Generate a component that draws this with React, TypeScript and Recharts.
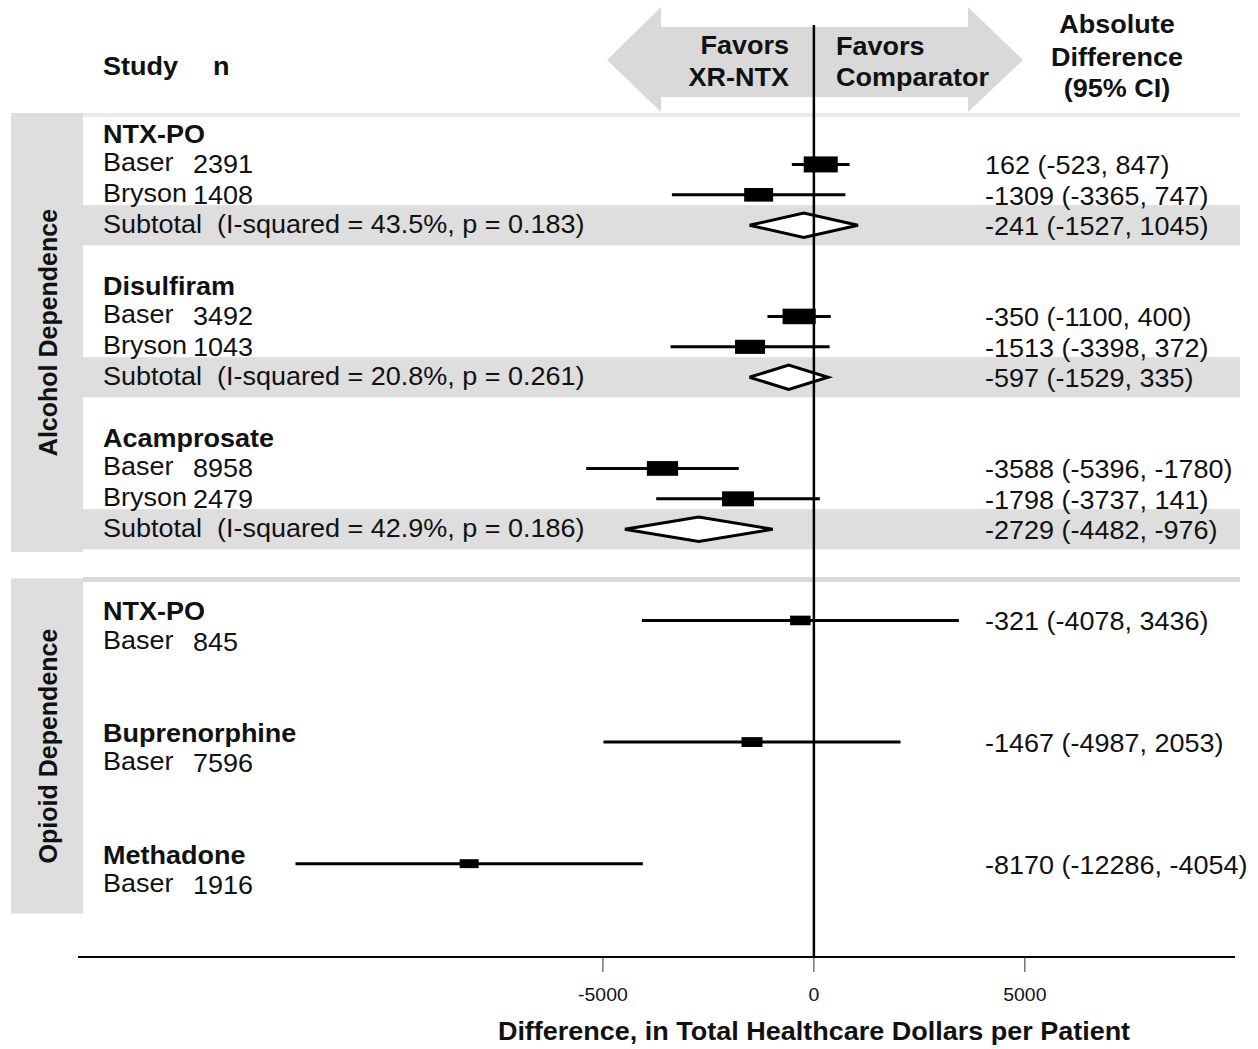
import React from 'react';
import {
  ComposedChart,
  XAxis,
  YAxis,
  Scatter,
  ReferenceArea,
  ReferenceLine,
} from 'recharts';

const FONT = '"Liberation Sans", Arial, Helvetica, sans-serif';
const SX = 1.08; // the source text is slightly wide

// section labels (left strip) and the rows they cover
const groupNames = ['Alcohol Dependence', 'Opioid Dependence'];
const groupStart = [-0.69, 14.62];
const groupEnd = [13.75, 25.64];

// comparator headings
const comparators = ['NTX-PO', 'Disulfiram', 'Acamprosate', 'NTX-PO', 'Buprenorphine', 'Methadone'];
const comparatorRows = [0, 5, 10, 15.7, 19.7, 23.7];

// individual studies
const studyNames = ['Baser', 'Bryson', 'Baser', 'Bryson', 'Baser', 'Bryson', 'Baser', 'Baser', 'Baser'];
const studyN = [2391, 1408, 3492, 1043, 8958, 2479, 845, 7596, 1916];
const studyRows = [1, 2, 6, 7, 11, 12, 16, 20, 24];
const studyLabelRows = [1, 2, 6, 7, 11, 12, 16.7, 20.7, 24.7];
const estimates = [162, -1309, -350, -1513, -3588, -1798, -321, -1467, -8170];
const lowerCI = [-523, -3365, -1100, -3398, -5396, -3737, -4078, -4987, -12286];
const upperCI = [847, 747, 400, 372, -1780, 141, 3436, 2053, -4054];
const weights = [58, 42, 55, 45, 49, 51, 21, 22, 18];

// pooled subtotals
const subtotalRows = [3, 8, 13];
const subtotalEst = [-241, -597, -2729];
const subtotalLower = [-1527, -1529, -4482];
const subtotalUpper = [1045, 335, -976];
const subtotalI2 = ['43.5', '20.8', '42.9'];
const subtotalP = ['0.183', '0.261', '0.186'];

const xTicks = [-5000, 0, 5000];

const T = ({ x, y, anchor = 'start', bold = false, size = 25, children }: any) => (
  <text
    transform={`translate(${x},${y}) scale(${SX},1)`}
    textAnchor={anchor}
    fontSize={size}
    fontWeight={bold ? 'bold' : 'normal'}
    fontFamily={FONT}
    fill="#111"
    style={{ whiteSpace: 'pre' }}
  >
    {children}
  </text>
);

const None = () => <g />;

const studyPoints = studyRows.map((r, i) => ({ x: estimates[i], y: r, w: weights[i] }));
const nameLabels = studyLabelRows.map((r, i) => ({ x: 0, y: r, name: studyNames[i], n: studyN[i] }));
const headingLabels = comparatorRows.map((r, i) => ({ x: 0, y: r, text: comparators[i] }));
const subtotalLabels = subtotalRows.map((r, i) => ({
  x: 0,
  y: r,
  text: `Subtotal  (I-squared = ${subtotalI2[i]}%, p = ${subtotalP[i]})`,
}));
const valueLabels = [
  ...studyRows.map((r, i) => ({ x: 0, y: r, text: `${estimates[i]} (${lowerCI[i]}, ${upperCI[i]})` })),
  ...subtotalRows.map((r, i) => ({
    x: 0,
    y: r,
    text: `${subtotalEst[i]} (${subtotalLower[i]}, ${subtotalUpper[i]})`,
  })),
];

const BOX_K = 4.47;
const Box = (p: any) => {
  const w = BOX_K * Math.sqrt(p.payload.w);
  const h = w * 0.47;
  return <rect x={p.cx - w / 2} y={p.cy - h / 2} width={w} height={h} fill="#000" />;
};

const BAND = '#dedede';

export default function App() {
  return (
    <div style={{ position: 'absolute', left: 0, top: 0, width: 1258, height: 1049, background: '#fff' }}>
      {/* header, drawn behind the plot */}
      <svg width={1258} height={1049} style={{ position: 'absolute', left: 0, top: 0 }}>
        <polygon
          points="607,60 661,7 661,27 968,27 968,7 1023,60 968,112 968,97 661,97 661,112"
          fill="#d9d9d9"
        />
        <T x={103} y={75} bold>Study</T>
        <T x={213} y={75} bold>n</T>
        <T x={789} y={54} bold anchor="end">Favors</T>
        <T x={789} y={86} bold anchor="end">XR-NTX</T>
        <T x={836} y={55} bold>Favors</T>
        <T x={836} y={86} bold>Comparator</T>
        <T x={1117} y={33} bold anchor="middle">Absolute</T>
        <T x={1117} y={66} bold anchor="middle">Difference</T>
        <T x={1117} y={97} bold anchor="middle">(95% CI)</T>
        <T x={814} y={1040} bold anchor="middle">Difference, in Total Healthcare Dollars per Patient</T>
      </svg>
      <div style={{ position: 'absolute', left: 0, top: 0 }}>
        <ComposedChart width={1258} height={1049} margin={{ top: 25, right: 23, bottom: 52, left: 78 }}>
          <XAxis
            type="number"
            dataKey="x"
            domain={[-17440, 9980]}
            ticks={xTicks}
            height={40}
            axisLine={{ stroke: '#000', strokeWidth: 2 }}
            tickLine={{ stroke: '#333', strokeWidth: 1 }}
            tickSize={15}
            tick={(p: any) => (
              <T x={p.x} y={p.y + 27} size={18} anchor="middle">
                {p.payload.value}
              </T>
            )}
          />
          <YAxis type="number" dataKey="y" domain={[-3.586, 27.07]} reversed hide width={0} />

          {/* left section strips */}
          {groupNames.map((g, i) => (
            <ReferenceArea
              key={`grp${i}`}
              y1={groupStart[i]}
              y2={groupEnd[i]}
              shape={(p: any) => (
                <g>
                  <rect x={11} y={p.y} width={72} height={p.height} fill={BAND} />
                  <text
                    transform={`translate(57,${p.y + p.height / 2}) rotate(-90)`}
                    textAnchor="middle"
                    fontSize={25}
                    fontWeight="bold"
                    fontFamily={FONT}
                    fill="#111"
                  >
                    {g}
                  </text>
                </g>
              )}
            />
          ))}
          {/* section separator lines */}
          <ReferenceArea
            y1={-0.69}
            y2={-0.56}
            shape={(p: any) => <rect x={83} y={p.y} width={1157} height={p.height} fill="#eaeaea" />}
          />
          <ReferenceArea
            y1={14.57}
            y2={14.74}
            shape={(p: any) => <rect x={83} y={p.y} width={1157} height={p.height} fill="#d9d9d9" />}
          />
          {/* subtotal bands */}
          {subtotalRows.map((r, i) => (
            <ReferenceArea
              key={`band${i}`}
              y1={r - 0.66}
              y2={r + 0.66}
              shape={(p: any) => <rect x={83} y={p.y} width={1157} height={p.height} fill={BAND} />}
            />
          ))}

          {/* confidence intervals */}
          {studyRows.map((r, i) => (
            <Scatter
              key={`ci${i}`}
              data={[
                { x: lowerCI[i], y: r },
                { x: upperCI[i], y: r },
              ]}
              line={{ stroke: '#000', strokeWidth: 3 }}
              shape={None}
              legendType="none"
              isAnimationActive={false}
            />
          ))}
          <Scatter data={studyPoints} shape={Box} legendType="none" isAnimationActive={false} />

          {/* pooled diamonds */}
          {subtotalRows.map((r, i) => (
            <Scatter
              key={`dia${i}`}
              data={[
                { x: subtotalLower[i], y: r },
                { x: subtotalEst[i], y: r - 0.4 },
                { x: subtotalUpper[i], y: r },
                { x: subtotalEst[i], y: r + 0.4 },
                { x: subtotalLower[i], y: r },
              ]}
              line={{ stroke: '#000', strokeWidth: 3, fill: '#fff', strokeLinejoin: 'miter' }}
              shape={None}
              legendType="none"
              isAnimationActive={false}
            />
          ))}

          <ReferenceLine x={0} stroke="#000" strokeWidth={2.5} zIndex={700} />

          {/* text columns */}
          <Scatter
            data={headingLabels}
            legendType="none"
            isAnimationActive={false}
            shape={(p: any) => (
              <T x={103} y={p.cy + 9} bold>
                {p.payload.text}
              </T>
            )}
          />
          <Scatter
            data={nameLabels}
            legendType="none"
            isAnimationActive={false}
            shape={(p: any) => (
              <g>
                <T x={103} y={p.cy + 7}>{p.payload.name}</T>
                <T x={193} y={p.cy + 9}>{p.payload.n}</T>
              </g>
            )}
          />
          <Scatter
            data={subtotalLabels}
            legendType="none"
            isAnimationActive={false}
            shape={(p: any) => (
              <T x={103} y={p.cy + 8}>
                {p.payload.text}
              </T>
            )}
          />
          <Scatter
            data={valueLabels}
            legendType="none"
            isAnimationActive={false}
            shape={(p: any) => (
              <T x={985} y={p.cy + 10}>
                {p.payload.text}
              </T>
            )}
          />
        </ComposedChart>
      </div>
    </div>
  );
}
